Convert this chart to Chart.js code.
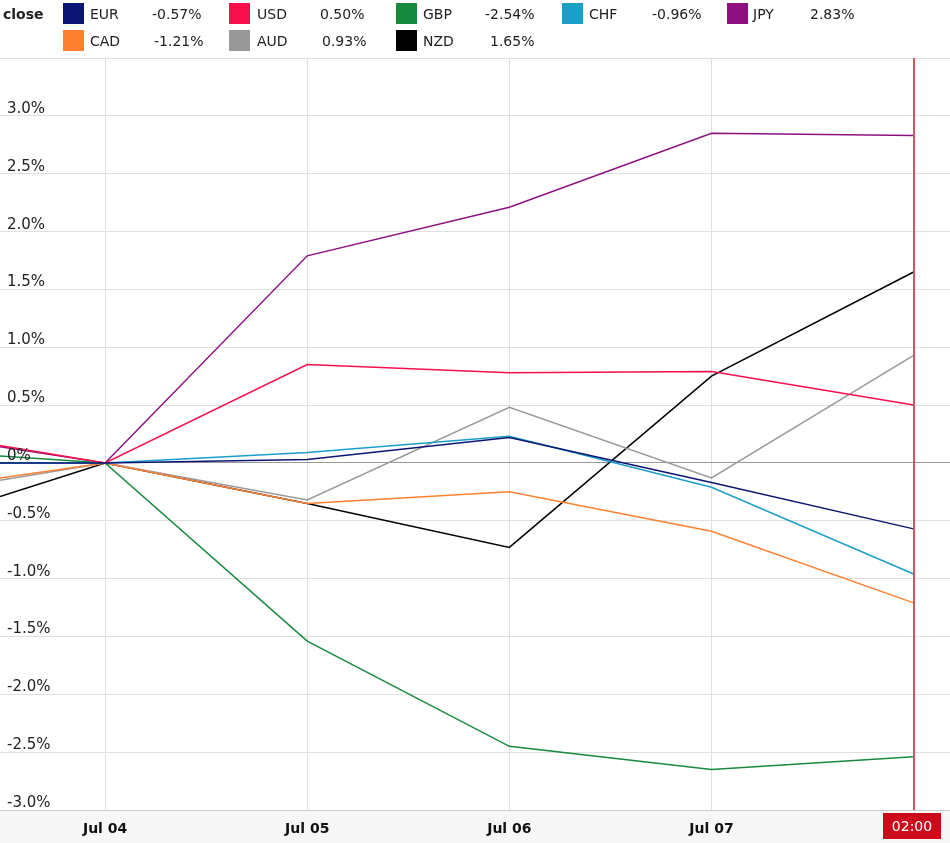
<!DOCTYPE html>
<html><head><meta charset="utf-8">
<script src="https://cdn.jsdelivr.net/npm/chart.js@4"></script>
<style>
html,body{margin:0;padding:0;background:#fff;}
#wrap{position:relative;width:950px;height:843px;overflow:hidden;}
#legend{position:absolute;left:0;top:0;width:950px;height:58px;font-family:"DejaVu Sans";font-size:14px;color:#222;}
#legend div{position:absolute;white-space:nowrap;}
canvas{position:absolute;left:0;top:0;}
</style></head><body>
<div id="wrap"><canvas id="c" width="950" height="843"></canvas><div id="legend"></div></div>
<script>
// ---- data ----
const currencies = ['EUR','USD','GBP','CHF','JPY','CAD','AUD','NZD'];
const changes    = ['-0.57%','0.50%','-2.54%','-0.96%','2.83%','-1.21%','0.93%','1.65%'];
const colors     = ['#0c1574','#f7104d','#178a3f','#1a9fc8','#8e1080','#ff8030','#999999','#000000'];
const xLabels    = ['Jul 04','Jul 05','Jul 06','Jul 07','02:00'];
const xValues    = [-0.52, 0, 1, 2, 3, 4];   // day offsets from Jul 04 (first = left edge of view)
const eur = [0.00, 0, 0.03, 0.22, -0.17, -0.57];
const usd = [0.15, 0, 0.85, 0.78, 0.79, 0.50];
const gbp = [0.06, 0, -1.54, -2.45, -2.65, -2.54];
const chf = [0.00, 0, 0.09, 0.23, -0.21, -0.96];
const jpy = [0.14, 0, 1.79, 2.21, 2.85, 2.83];
const cad = [-0.13, 0, -0.35, -0.25, -0.59, -1.21];
const aud = [-0.15, 0, -0.32, 0.48, -0.13, 0.93];
const nzd = [-0.29, 0, -0.35, -0.73, 0.75, 1.65];
const yTicks = [-3.0,-2.5,-2.0,-1.5,-1.0,-0.5,0,0.5,1.0,1.5,2.0,2.5,3.0,3.5];
const yTickLabels = ['-3.0%','-2.5%','-2.0%','-1.5%','-1.0%','-0.5%','0%','0.5%','1.0%','1.5%','2.0%','2.5%','3.0%',''];
const series = [eur, usd, gbp, chf, jpy, cad, aud, nzd];

// ---- legend ----
const legend = document.getElementById('legend');
const rowCenters = [14, 41];
const boxX  = [63, 229, 396, 562, 727];
const textX = [90, 257, 423, 589, 753];
const valX  = [[152,320,485,652,810],[154,322,490]];
function addDiv(html, left, top, h, extra){
  const d = document.createElement('div');
  d.innerHTML = html; d.style.left = left+'px'; d.style.top = top+'px';
  d.style.height = h+'px'; d.style.lineHeight = h+'px';
  if (extra) Object.assign(d.style, extra);
  legend.appendChild(d); return d;
}
addDiv('close', 3, rowCenters[0]-10, 20, {fontWeight:'bold'});
currencies.forEach((c,i)=>{
  const row = i<5?0:1, col = i<5?i:i-5, cy = rowCenters[row];
  addDiv('', boxX[col], cy-11, 21, {width:'21px', background:colors[i]});
  addDiv(c, textX[col], cy-10, 20);
  addDiv(changes[i], valX[row][col], cy-10, 20);
});

// ---- chart ----
const overlay = {
  id:'overlay',
  beforeDraw(chart){
    const {ctx, chartArea:a} = chart;
    ctx.save();
    ctx.fillStyle = '#f7f7f7';
    ctx.fillRect(0, a.bottom, chart.width, chart.height - a.bottom);
    ctx.restore();
  },
  afterDatasetsDraw(chart){
    const {ctx, chartArea:a, scales:{x,y}} = chart;
    ctx.save();
    // y labels
    ctx.font = '15px "DejaVu Sans"'; ctx.fillStyle = '#222'; ctx.textAlign='left'; ctx.textBaseline='alphabetic';
    yTicks.forEach((v,i)=>{ if (yTickLabels[i]) ctx.fillText(yTickLabels[i], 7, Math.round(y.getPixelForValue(v)) - 3); });
    // bottom border
    ctx.strokeStyle = '#cfcfcf'; ctx.lineWidth = 1;
    ctx.beginPath(); ctx.moveTo(a.left, a.bottom+0.5); ctx.lineTo(a.right, a.bottom+0.5); ctx.stroke();
    // x labels
    ctx.font = 'bold 14px "DejaVu Sans"'; ctx.textAlign='center'; ctx.fillStyle='#111';
    for (let i=0;i<4;i++) ctx.fillText(xLabels[i], x.getPixelForValue(i), a.bottom+23);
    // current marker
    const px = Math.round(x.getPixelForValue(4));
    ctx.strokeStyle = '#e0505e'; ctx.lineWidth = 2;
    ctx.beginPath(); ctx.moveTo(px, a.top); ctx.lineTo(px, a.bottom); ctx.stroke();
    ctx.fillStyle = '#cc0a1c';
    ctx.fillRect(px-31, a.bottom+3, 58, 26);
    ctx.fillStyle = '#fff'; ctx.font = '14px "DejaVu Sans"';
    ctx.fillText(xLabels[4], px-2, a.bottom+21);
    ctx.restore();
  }
};

new Chart(document.getElementById('c'), {
  type:'line',
  data:{
    datasets: series.map((s,i)=>({
      label: currencies[i],
      data: s.map((v,j)=>({x:xValues[j], y:v})),
      borderColor: colors[i], backgroundColor: colors[i],
      borderWidth: 1.5, pointRadius: 0, tension: 0, fill:false
    }))
  },
  options:{
    responsive:false, animation:false, devicePixelRatio:1,
    layout:{padding:{top:58,left:0,right:0,bottom:0}},
    plugins:{legend:{display:false}, tooltip:{enabled:false}},
    scales:{
      x:{type:'linear', min:-0.52, max:4.18,
        afterBuildTicks(s){ s.ticks = [0,1,2,3].map(v=>({value:v})); },
        afterFit(s){ s.height = 33; },
        ticks:{display:false},
        grid:{color:'#e0e0e0', drawTicks:false, lineWidth:1},
        border:{display:false}},
      y:{type:'linear', min:-3, max:3.5,
        afterBuildTicks(s){ s.ticks = yTicks.map(v=>({value:v})); },
        afterFit(s){ s.width = 0; },
        ticks:{display:false},
        grid:{color:(c)=> c.tick && c.tick.value===0 ? '#999999' : '#e0e0e0', drawTicks:false, lineWidth:1},
        border:{display:false}}
    }
  },
  plugins:[overlay]
});
</script>
</body></html>
